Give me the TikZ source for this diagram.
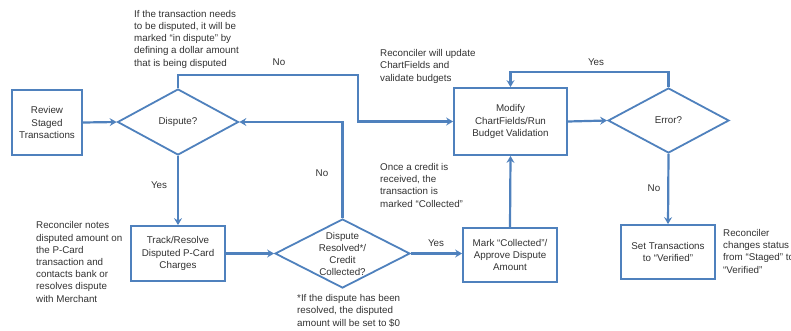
\documentclass[tikz,border=0pt]{standalone}
\usepackage{fontspec}
\setmainfont{Liberation Sans}
\usetikzlibrary{arrows.meta,shapes.geometric}
\definecolor{flow}{RGB}{79,129,189}
\definecolor{ink}{RGB}{50,50,50}
\begin{document}
\begin{tikzpicture}[x=1pt,y=-1pt,
  font=\fontsize{9.8}{12.2}\selectfont, text=ink,
  procbox/.style={draw=flow,line width=1.8pt,fill=white,align=center,inner sep=0pt},
  decision/.style={diamond,draw=flow,line width=1.8pt,fill=white,inner sep=0pt},
  conn/.style={draw=flow,line width=2.2pt,-{Stealth[length=7pt,width=8pt,inset=2.5pt]}},
  note/.style={align=left,inner sep=0pt,anchor=base west},
  lbl/.style={inner sep=0pt}]
\useasboundingbox (0,0) rectangle (791,330);
% boxes
\node[procbox,minimum width=70pt,minimum height=65pt] (review) at (47,122.5) {Review\\Staged\\Transactions};
\node[decision,minimum width=121pt,minimum height=66pt] (dispute) at (178,122) {};
\node[lbl] (disputet) at (178,122) {Dispute?};
\node[procbox,minimum width=113pt,minimum height=67pt] (modify) at (510.5,121.5) {Modify\\ChartFields/Run\\Budget Validation};
\node[decision,minimum width=121pt,minimum height=65pt] (error) at (668.5,120.5) {};
\node[lbl] (errort) at (668.5,120.5) {Error?};
\node[procbox,minimum width=94pt,minimum height=55pt] (track) at (178,253.5) {Track/Resolve\\Disputed P-Card\\Charges};
\node[decision,minimum width=135pt,minimum height=69pt] (resolved) at (342.5,253.5) {};
\node[lbl,align=center] (resolvedt) at (342.5,254) {Dispute\\Resolved*/\\Credit\\Collected?};
\node[procbox,minimum width=94pt,minimum height=54pt] (mark) at (510,255) {Mark “Collected”/\\Approve Dispute\\Amount};
\node[procbox,minimum width=94pt,minimum height=54pt] (set) at (668,252) {Set Transactions\\to “Verified”};
% helper coordinates
\coordinate (nocorner) at (358,75);
\coordinate (yescorner) at (510.5,72);
% connectors
\draw[conn] (review.east) -- (dispute.west);
\draw[conn] (dispute.north) |- (nocorner) |- (modify.west);
\draw[conn] (modify.east) -- (error.west);
\draw[conn] (error.north) |- (yescorner) -- (modify.north);
\draw[conn] (dispute.south) -- (track.north);
\draw[conn] (track.east) -- (track.east -| resolved.west);
\draw[conn] (resolved.north) |- (dispute.east);
\draw[conn] (resolved.east) -- (resolved.east -| mark.west);
\draw[conn] (mark.north) -- (modify.south);
\draw[conn] (error.south) -- (set.north);
% connector labels
\node[lbl] (lno1) at (279,62) {No};
\node[lbl] (lyes1) at (596,62) {Yes};
\node[lbl] (lyes2) at (159,185) {Yes};
\node[lbl] (lno2) at (322,173) {No};
\node[lbl] (lyes3) at (436,243) {Yes};
\node[lbl] (lno3) at (654,188) {No};
% notes (anchored at baseline of last line)
\node[note] (n1) at (134,66) {If the transaction needs\\to be disputed, it will be\\marked “in dispute” by\\defining a dollar amount\\that is being disputed};
\node[note] (n2) at (380,81) {Reconciler will update\\ChartFields and\\validate budgets};
\node[note] (n3) at (380,207) {Once a credit is\\received, the\\transaction is\\marked “Collected”};
\node[note] (n4) at (36,302) {Reconciler notes\\disputed amount on\\the P-Card\\transaction and\\contacts bank or\\resolves dispute\\with Merchant};
\node[note] (n5) at (297,326) {*If the dispute has been\\resolved, the disputed\\amount will be set to \$0};
\node[note] (n6) at (723,273) {Reconciler\\changes status\\from “Staged” to\\“Verified”};
\end{tikzpicture}
\end{document}
